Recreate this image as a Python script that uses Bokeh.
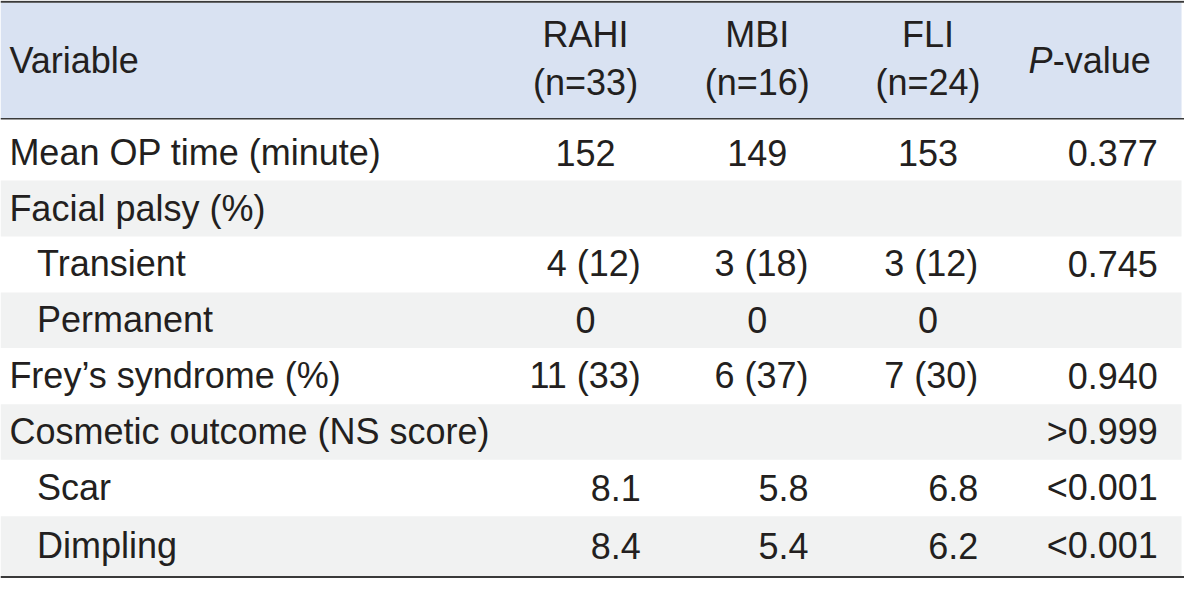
from bokeh.plotting import figure
from bokeh.models import Range1d, ColumnDataSource, Span
from bokeh.core.properties import value
from bokeh.embed import file_html
from bokeh.resources import INLINE

# ---- data ----
columns = ["RAHI", "MBI", "FLI"]
column_n = ["(n=33)", "(n=16)", "(n=24)"]
variables = ["Mean OP time (minute)", "Facial palsy (%)", "Transient", "Permanent",
             "Frey\u2019s syndrome (%)", "Cosmetic outcome (NS score)", "Scar", "Dimpling"]
indented = [False, False, True, True, False, False, True, True]
rahi = ["152", "", "4 (12)", "0", "11 (33)", "", "8.1", "8.4"]
mbi = ["149", "", "3 (18)", "0", "6 (37)", "", "5.8", "5.4"]
fli = ["153", "", "3 (12)", "0", "7 (30)", "", "6.8", "6.2"]
pvalues = ["0.377", "", "0.745", "", "0.940", ">0.999", "<0.001", "<0.001"]

# ---- layout / style ----
FONT = value("Liberation Sans")
FS = "36px"
TXT = "#231f20"
HEADER_BG = "#d9e2f2"
STRIPE = "#f1f2f2"
RULE = "#3a3a3a"
YSHIFT = -13.5  # compensate renderer's baseline offset

W, H = 1200, 594
p = figure(width=1184, height=578, x_range=Range1d(0, W), y_range=Range1d(H, 0),
           output_backend="svg", toolbar_location=None, min_border=0,
           x_axis_location=None, y_axis_location=None)
p.outline_line_color = None
p.xgrid.visible = False
p.ygrid.visible = False
p.background_fill_color = "white"
p.border_fill_color = "white"

header_top, header_bottom = 2, 121.5
row_edges = [121.5, 185, 242.5, 300, 357, 415, 472, 530, 592]
right_edge = 1197

# header background
p.quad(left=[0], right=[right_edge], top=[header_top], bottom=[header_bottom],
       fill_color=HEADER_BG, line_color=None)

# striped rows
sl, sr, st, sb = [], [], [], []
for i in range(len(variables)):
    if i % 2 == 1:
        sl.append(0); sr.append(right_edge)
        st.append(row_edges[i]); sb.append(row_edges[i + 1])
p.quad(left=sl, right=sr, top=st, bottom=sb, fill_color=STRIPE, line_color=None)

# rules
p.add_layout(Span(location=1.2, dimension="width", line_color=RULE, line_width=2))
p.add_layout(Span(location=header_bottom, dimension="width", line_color=RULE, line_width=1.5))
p.add_layout(Span(location=592.5, dimension="width", line_color=RULE, line_width=2))

def txt(xs, ys, texts, align, style="normal"):
    src = ColumnDataSource(dict(x=xs, y=[y + YSHIFT for y in ys], t=texts))
    p.text(x="x", y="y", text="t", source=src, text_align=align,
           text_baseline="alphabetic", text_font=FONT, text_font_size=FS,
           text_color=TXT, text_font_style=style)

# header texts
col_center = [593, 767, 940]
col_right = [649, 819, 991]
p_right = 1173
txt([9], [75], ["Variable"], "left")
txt(col_center, [48] * 3, columns, "center")
txt(col_center, [98] * 3, column_n, "center")
txt([1042], [75], ["P"], "left", "italic")
txt([1066.5], [75], ["-value"], "left")

# body
centers = [(row_edges[i] + row_edges[i + 1]) / 2 for i in range(len(variables))]
base = [c + 13 for c in centers]
base[0] = 170

vx = [37 if ind else 9 for ind in indented]
txt(vx, base, variables, "left")

cx, cy, ct = [], [], []
rx, ry, rt = [], [], []
for ci, col in enumerate([rahi, mbi, fli]):
    for ri, v in enumerate(col):
        if not v:
            continue
        if "(" in v or "." in v:
            rx.append(col_right[ci]); ry.append(base[ri]); rt.append(v)
        else:
            cx.append(col_center[ci]); cy.append(base[ri]); ct.append(v)
for ri, v in enumerate(pvalues):
    if v:
        rx.append(p_right); ry.append(base[ri]); rt.append(v)
txt(cx, cy, ct, "center")
txt(rx, ry, rt, "right")

open("out.html", "w").write(file_html(p, INLINE))
